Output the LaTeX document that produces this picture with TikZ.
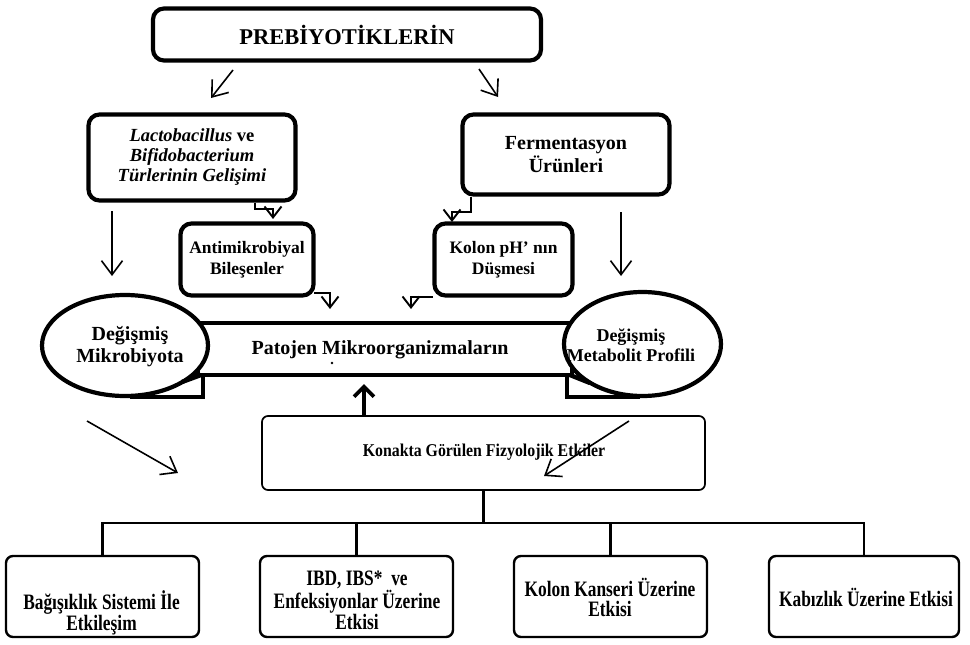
\documentclass[tikz,border=0pt]{standalone}
\usepackage{fontspec}
\setmainfont{Liberation Serif}
\newfontfamily\condK[FakeStretch=0.88]{Liberation Serif}
\newfontfamily\condB[FakeStretch=0.79]{Liberation Serif}
\usetikzlibrary{arrows.meta,shapes.geometric,calc}
\begin{document}
\begin{tikzpicture}[x=1pt,y=-1pt,
  thickbox/.style={draw,line width=4.2pt,rounded corners=11pt,align=center,inner sep=0pt},
  ell/.style={draw,line width=4.2pt,ellipse,fill=white,inner sep=0pt},
  txt/.style={align=center,inner sep=0pt},
  thinbox/.style={draw,line width=2.4pt,rounded corners=7pt,inner sep=0pt},
  arr/.style={line width=1.6pt,-{Straight Barb[length=14pt,width=21pt]}},
  elb/.style={line width=1.9pt,-{Straight Barb[length=11pt,width=17pt]}},
  uparr/.style={line width=3.8pt,-{Straight Barb[length=10pt,width=20pt]}},
  ribbonline/.style={line width=4.4pt},
  treeline/.style={line width=2.2pt},
  f22/.style={font=\bfseries\fontsize{22.5}{24}\selectfont},
  f20/.style={font=\bfseries\fontsize{20}{23}\selectfont},
  f18/.style={font=\bfseries\fontsize{18.5}{20}\selectfont},
  f17/.style={font=\bfseries\fontsize{17.5}{21}\selectfont},
  fK/.style={font=\condK\bfseries\fontsize{18}{20}\selectfont},
  fB/.style={font=\condB\bfseries\fontsize{22}{20}\selectfont}
]
\useasboundingbox (0,0) rectangle (970,645);

% top box
\node[thickbox,f22,minimum width=388,minimum height=52] (top) at (347,34.5) {PREBİYOTİKLERİN};

% coordinates for free arrow ends
\coordinate (a1s) at (233,70);  \coordinate (a1e) at (211,98);
\coordinate (a2s) at (479,69);  \coordinate (a2e) at (498,97);
\coordinate (a3s) at (112,211); \coordinate (a3e) at (112,276);
\coordinate (a4s) at (621,212); \coordinate (a4e) at (621,276);
\coordinate (a5s) at (87,421);  \coordinate (a5e) at (178,473);
\coordinate (a6s) at (629,421); \coordinate (a6e) at (544,476);
\coordinate (upT) at (364,384);
\coordinate (e1) at (255,209);  \coordinate (e1t) at (273,219);
\coordinate (e2s) at (314,293); \coordinate (e2t) at (330,309);
\coordinate (e3) at (471,212);  \coordinate (e3t) at (452,222);
\coordinate (e4s) at (433,297); \coordinate (e4t) at (411,309);

\draw[arr] (a1s) -- (a1e);
\draw[arr] (a2s) -- (a2e);

% second row
\node[thickbox,f18,minimum width=207,minimum height=86] (lac) at (192,157.5)
  {\itshape Lactobacillus\/ \upshape ve\\\itshape Bifidobacterium\\\itshape Türlerinin Gelişimi};
\node[thickbox,f20,minimum width=207,minimum height=80] (fer) at (566,154.5)
  {Fermentasyon\\Ürünleri};

\draw[arr] (a3s) -- (a3e);
\draw[arr] (a4s) -- (a4e);

% third row
\node[thickbox,f17,minimum width=133,minimum height=72] (anti) at (247,259.5)
  {Antimikrobiyal\\Bileşenler};
\node[thickbox,f17,minimum width=138,minimum height=72] (kol) at (503.5,259.5)
  {Kolon pH’ nın\\Düşmesi};

% elbow connectors
\draw[elb] (lac.south -| e1) -- (e1) -| (e1t);
\draw[elb] (e2s) -| (e2t);
\draw[elb] (fer.south -| e3) -- (e3) -| (e3t);
\draw[elb] (e4s) -| (e4t);

% ribbon
\node[draw,ribbonline,minimum width=374,minimum height=52,inner sep=0pt] (pat) at (385,349) {};
\draw[ribbonline] (203,375) -- (203,397) -- (130,397);
\draw[ribbonline] (567,375) -- (567,397) -- (640,397);
\node[ell,minimum width=166,minimum height=101] (elL) at (125,345.5) {};
\node[ell,minimum width=157,minimum height=104] (elR) at (642.5,344) {};
\draw[ribbonline] (201,375) -- (182,382);
\draw[ribbonline] (570,375) -- (590,383);

\node[txt,f20] (pattxt) at (380,350) {Patojen Mikroorganizmaların};
\fill (332,363) circle (1.3pt);
\node[txt,font=\bfseries\fontsize{20}{22}\selectfont] (elLt) at (130,347) {Değişmiş\\Mikrobiyota};
\begin{scope}
  \clip (642.5,344) ellipse [x radius=76.5pt,y radius=49.5pt];
  \node[txt,font=\bfseries\fontsize{18}{20}\selectfont] (elRt) at (631,345) {Değişmiş\\Metabolit Profili};
\end{scope}

% Konakta box
\node[draw,line width=1.7pt,rounded corners=6pt,minimum width=443,minimum height=74,inner sep=0pt] (kon) at (483.5,453) {};
\node[txt,fK] (kont) at (484,452) {Konakta Görülen Fizyolojik Etkiler};

\draw[uparr] (kon.north -| upT) -- (upT);
\draw[arr] (a5s) -- (a5e);
\draw[arr] (a6s) -- (a6e);

% bottom boxes
\node[thinbox,minimum width=193,minimum height=81] (b1) at (102.5,596.5) {};
\node[thinbox,minimum width=193,minimum height=81] (b2) at (356.5,596.5) {};
\node[thinbox,minimum width=193,minimum height=81] (b3) at (610.5,596.5) {};
\node[thinbox,minimum width=190,minimum height=81] (b4) at (864,596.5) {};

\node[txt,fB] (t1) at (101.5,613) {Bağışıklık Sistemi İle\\Etkileşim};
\node[txt,fB] (t2) at (357,600) {IBD, IBS*\ \ ve\\Enfeksiyonlar Üzerine\\Etkisi};
\node[txt,fB] (t3) at (610,597) {Kolon Kanseri Üzerine\\Etkisi};
\node[txt,fB] (t4) at (866,597) {Kabızlık Üzerine Etkisi};

% tree
\coordinate (bar) at (484,523);
\draw[treeline] (kon.south) -- (kon.south |- bar);
\draw[treeline] (b1.north) -- (b1.north |- bar) -- (b4.north |- bar) -- (b4.north);
\draw[treeline] (b2.north) -- (b2.north |- bar);
\draw[treeline] (b3.north) -- (b3.north |- bar);
\end{tikzpicture}
\end{document}
